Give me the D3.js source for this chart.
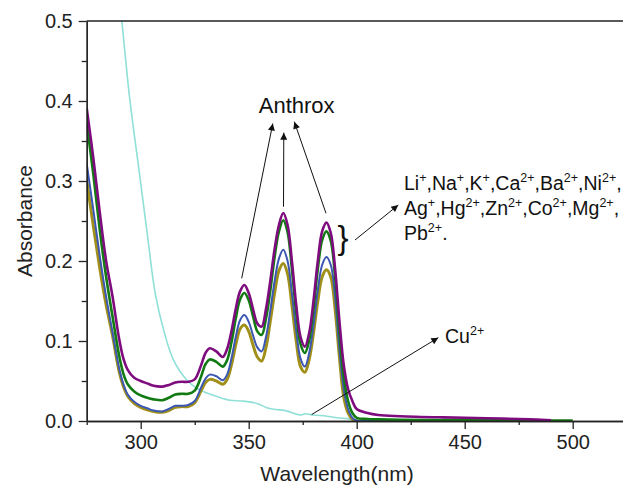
<!DOCTYPE html>
<html>
<head>
<meta charset="utf-8">
<script src="https://cdn.jsdelivr.net/npm/d3@7"></script>
<style>
  html, body { margin: 0; padding: 0; background: #fff; }
  svg { display: block; font-family: "Liberation Sans", Arial, Helvetica, sans-serif; }
</style>
</head>
<body>
<svg id="chart" width="623" height="488"></svg>
<script>
// ---------------- DATA ----------------
const wavelengths = [275,278,281,284,287,290,292,294,297,300,303,306,310,313,316,319,322,325,328,330,332,335,338,340,342,344,346,348,350,352,354,356,358,360,362,364,366,368,370,372,374,376,378,380,382,384,386,388,390,392,394,396,398,400,405,410,420,440,460,480,490,500];

const olive  = [0.301,0.245,0.192,0.145,0.106,0.062,0.043,0.031,0.022,0.017,0.014,0.012,0.011,0.013,0.017,0.018,0.018,0.023,0.038,0.048,0.052,0.050,0.046,0.052,0.070,0.095,0.115,0.120,0.112,0.095,0.080,0.075,0.092,0.125,0.160,0.188,0.197,0.184,0.145,0.100,0.068,0.061,0.077,0.110,0.150,0.180,0.189,0.180,0.140,0.080,0.030,0.010,0.002,0.000,0.000,0.000,0.000,0.000,0.000,0.000,null,null];
const blue   = [0.322,0.265,0.207,0.155,0.110,0.066,0.046,0.033,0.024,0.019,0.016,0.013,0.012,0.015,0.019,0.019,0.020,0.025,0.042,0.053,0.058,0.056,0.051,0.058,0.078,0.105,0.126,0.1325,0.124,0.107,0.092,0.087,0.105,0.138,0.175,0.203,0.214,0.200,0.160,0.113,0.078,0.068,0.085,0.120,0.164,0.195,0.205,0.195,0.155,0.090,0.040,0.015,0.004,0.0005,0.000,0.000,0.000,0.000,0.000,0.000,null,null];
const green  = [0.372,0.310,0.240,0.180,0.130,0.082,0.059,0.046,0.037,0.032,0.029,0.027,0.026,0.029,0.033,0.034,0.034,0.038,0.056,0.071,0.077,0.074,0.068,0.076,0.098,0.128,0.152,0.160,0.151,0.131,0.112,0.1075,0.128,0.163,0.205,0.237,0.251,0.236,0.190,0.135,0.096,0.085,0.101,0.140,0.190,0.226,0.237,0.225,0.180,0.110,0.055,0.025,0.010,0.004,0.0025,0.002,0.0015,0.0012,0.001,0.0008,0.0006,0.0005];
const purple = [0.391,0.330,0.262,0.200,0.155,0.103,0.078,0.064,0.054,0.050,0.047,0.044,0.043,0.045,0.048,0.049,0.049,0.052,0.070,0.085,0.091,0.087,0.080,0.090,0.112,0.140,0.162,0.170,0.160,0.140,0.122,0.118,0.140,0.175,0.215,0.245,0.260,0.245,0.200,0.145,0.105,0.093,0.110,0.150,0.200,0.237,0.248,0.235,0.190,0.125,0.070,0.040,0.025,0.015,0.010,0.0075,0.006,0.0045,0.0035,0.002,0.001,null];

const cuWavelengths = [280,285,289,291.3,295,299,303,306.7,310.6,315.2,321.4,326,330.6,336,341.4,347,353.8,358,361.5,367,373.8,376,380,386.2,391,395.5,400,405];
const cuValues      = [0.85,0.68,0.57,0.50,0.401,0.318,0.235,0.160,0.114,0.076,0.051,0.041,0.035,0.030,0.026,0.025,0.022,0.017,0.0146,0.013,0.0075,0.009,0.0075,0.006,0.004,0.003,0.001,0.0003];

const xMajorTicks = [300,350,400,450,500];
const xMinorTicks = [275,325,375,425,475,525];
const yMajorTicks = [0.0,0.1,0.2,0.3,0.4,0.5];
const yMinorTicks = [0.05,0.15,0.25,0.35,0.45];

const series = [
  {name: "olive",  values: olive,  color: "#a0901a", width: 3.0},
  {name: "blue",   values: blue,   color: "#3b57b3", width: 2.0},
  {name: "green",  values: green,  color: "#127a12", width: 2.6},
  {name: "purple", values: purple, color: "#7e0c7e", width: 2.6}
];

// ---------------- CHART ----------------
const svg = d3.select("#chart");
const L = 86.7, T = 21, B = 421, R = 626.7;
const x = d3.scaleLinear().domain([275, 525]).range([L, R]);
const y = d3.scaleLinear().domain([0, 0.5]).range([B, T]);

const defs = svg.append("defs");
defs.append("clipPath").attr("id", "plotclip")
  .append("rect").attr("x", L).attr("y", T).attr("width", R - L).attr("height", B - T);
defs.append("marker").attr("id", "arrow")
  .attr("viewBox", "0 0 10 10").attr("refX", 10).attr("refY", 5)
  .attr("markerUnits", "userSpaceOnUse")
  .attr("markerWidth", 9).attr("markerHeight", 7)
  .attr("orient", "auto")
  .append("path").attr("d", "M0,0 L10,5 L0,10 z").attr("fill", "#111");

const plot = svg.append("g").attr("clip-path", "url(#plotclip)");

const line = d3.line()
  .defined(d => d[1] !== null)
  .x(d => x(d[0])).y(d => y(d[1]))
  .curve(d3.curveCatmullRom.alpha(0.5));

// Cu2+ curve
plot.append("path")
  .datum(cuWavelengths.map((w, i) => [w, cuValues[i]]))
  .attr("fill", "none").attr("stroke", "#8fe0d8").attr("stroke-width", 1.6)
  .attr("d", line);

series.forEach(s => {
  plot.append("path")
    .datum(wavelengths.map((w, i) => [w, s.values[i]]))
    .attr("fill", "none").attr("stroke", s.color).attr("stroke-width", s.width)
    .attr("stroke-linejoin", "round")
    .attr("d", line);
});

// Axes
const fontSize = 20;
const xAxisMinor = d3.axisBottom(x).tickValues(xMinorTicks).tickSize(4).tickFormat("").tickSizeOuter(0);
const xAxis = d3.axisBottom(x).tickValues(xMajorTicks).tickSize(8).tickPadding(6).tickSizeOuter(0).tickFormat(d3.format("d"));
const yAxisMinor = d3.axisLeft(y).tickValues(yMinorTicks).tickSize(5).tickFormat("").tickSizeOuter(0);
const yAxis = d3.axisLeft(y).tickValues(yMajorTicks).tickSize(8).tickPadding(6).tickSizeOuter(0).tickFormat(d3.format(".1f"));

function styleAxis(g) {
  g.selectAll("path.domain").attr("stroke", "#222").attr("stroke-width", 1.3);
  g.selectAll(".tick line").attr("stroke", "#222").attr("stroke-width", 1.3);
  g.selectAll(".tick text").attr("fill", "#222").style("font-size", fontSize + "px")
    .style("font-family", "'Liberation Sans', Arial, sans-serif");
}

svg.append("g").attr("transform", `translate(0,${B})`).call(xAxisMinor).call(styleAxis);
svg.append("g").attr("transform", `translate(0,${B})`).call(xAxis).call(styleAxis);
svg.append("g").attr("transform", `translate(${L},0)`).call(yAxisMinor).call(styleAxis);
svg.append("g").attr("transform", `translate(${L},0)`).call(yAxis).call(styleAxis);

// top frame line
svg.append("line").attr("x1", L).attr("x2", R).attr("y1", T).attr("y2", T)
  .attr("stroke", "#222").attr("stroke-width", 1.3);

// Axis titles
svg.append("text").attr("x", 337).attr("y", 481).attr("text-anchor", "middle")
  .style("font-size", "21px").attr("fill", "#222").text("Wavelength(nm)");
svg.append("text").attr("transform", "translate(32,221) rotate(-90)").attr("text-anchor", "middle")
  .style("font-size", "21px").attr("fill", "#222").text("Absorbance");

// Annotations
svg.append("text").attr("x", 296.7).attr("y", 113).attr("text-anchor", "middle")
  .style("font-size", "22px").attr("fill", "#111").text("Anthrox");

const arrows = [
  {x1: 241.7, y1: 278.3, x2: 272.8, y2: 123.5},
  {x1: 283.5, y1: 206.7, x2: 283.8, y2: 132.7},
  {x1: 326.0, y1: 213.3, x2: 294.3, y2: 121.7},
  {x1: 355.0, y1: 240.0, x2: 398.3, y2: 205.0},
  {x1: 311.7, y1: 414.5, x2: 438.3, y2: 337.7}
];
svg.selectAll("line.arrow").data(arrows).enter().append("line")
  .attr("class", "arrow")
  .attr("x1", d => d.x1).attr("y1", d => d.y1).attr("x2", d => d.x2).attr("y2", d => d.y2)
  .attr("stroke", "#111").attr("stroke-width", 1)
  .attr("marker-end", "url(#arrow)");

// brace
svg.append("text").attr("x", 343).attr("y", 249).attr("text-anchor", "middle")
  .style("font-size", "33px").attr("fill", "#111").text("}");

// superscript helper
function richText(xp, yp, parts, size, supSize) {
  const t = svg.append("text").attr("x", xp).attr("y", yp)
    .style("font-size", size + "px").attr("fill", "#111");
  parts.forEach(p => {
    const s = t.append("tspan").text(p[0]);
    if (p[1]) s.attr("dy", -8).style("font-size", supSize + "px");
    else s.attr("dy", p[2] ? 8 : 0);
  });
  return t;
}
function build(items) {
  const parts = [];
  let prevSup = false;
  items.forEach(([base, sup]) => {
    parts.push([base, false, prevSup]);
    if (sup) { parts.push([sup, true]); prevSup = true; } else prevSup = false;
  });
  return parts;
}
const ionLine1 = [["Li","+"],[",Na","+"],[",K","+"],[",Ca","2+"],[",Ba","2+"],[",Ni","2+"],[",",""]];
const ionLine2 = [["Ag","+"],[",Hg","2+"],[",Zn","2+"],[",Co","2+"],[",Mg","2+"],[",",""]];
const ionLine3 = [["Pb","2+"],[".",""]];
richText(404, 190, build(ionLine1), 19.5, 12.5);
richText(404, 215, build(ionLine2), 19.5, 12.5);
richText(404, 240, build(ionLine3), 19.5, 12.5);
richText(445, 342.7, build([["Cu","2+"]]), 19.5, 12.5);
</script>
</body>
</html>
